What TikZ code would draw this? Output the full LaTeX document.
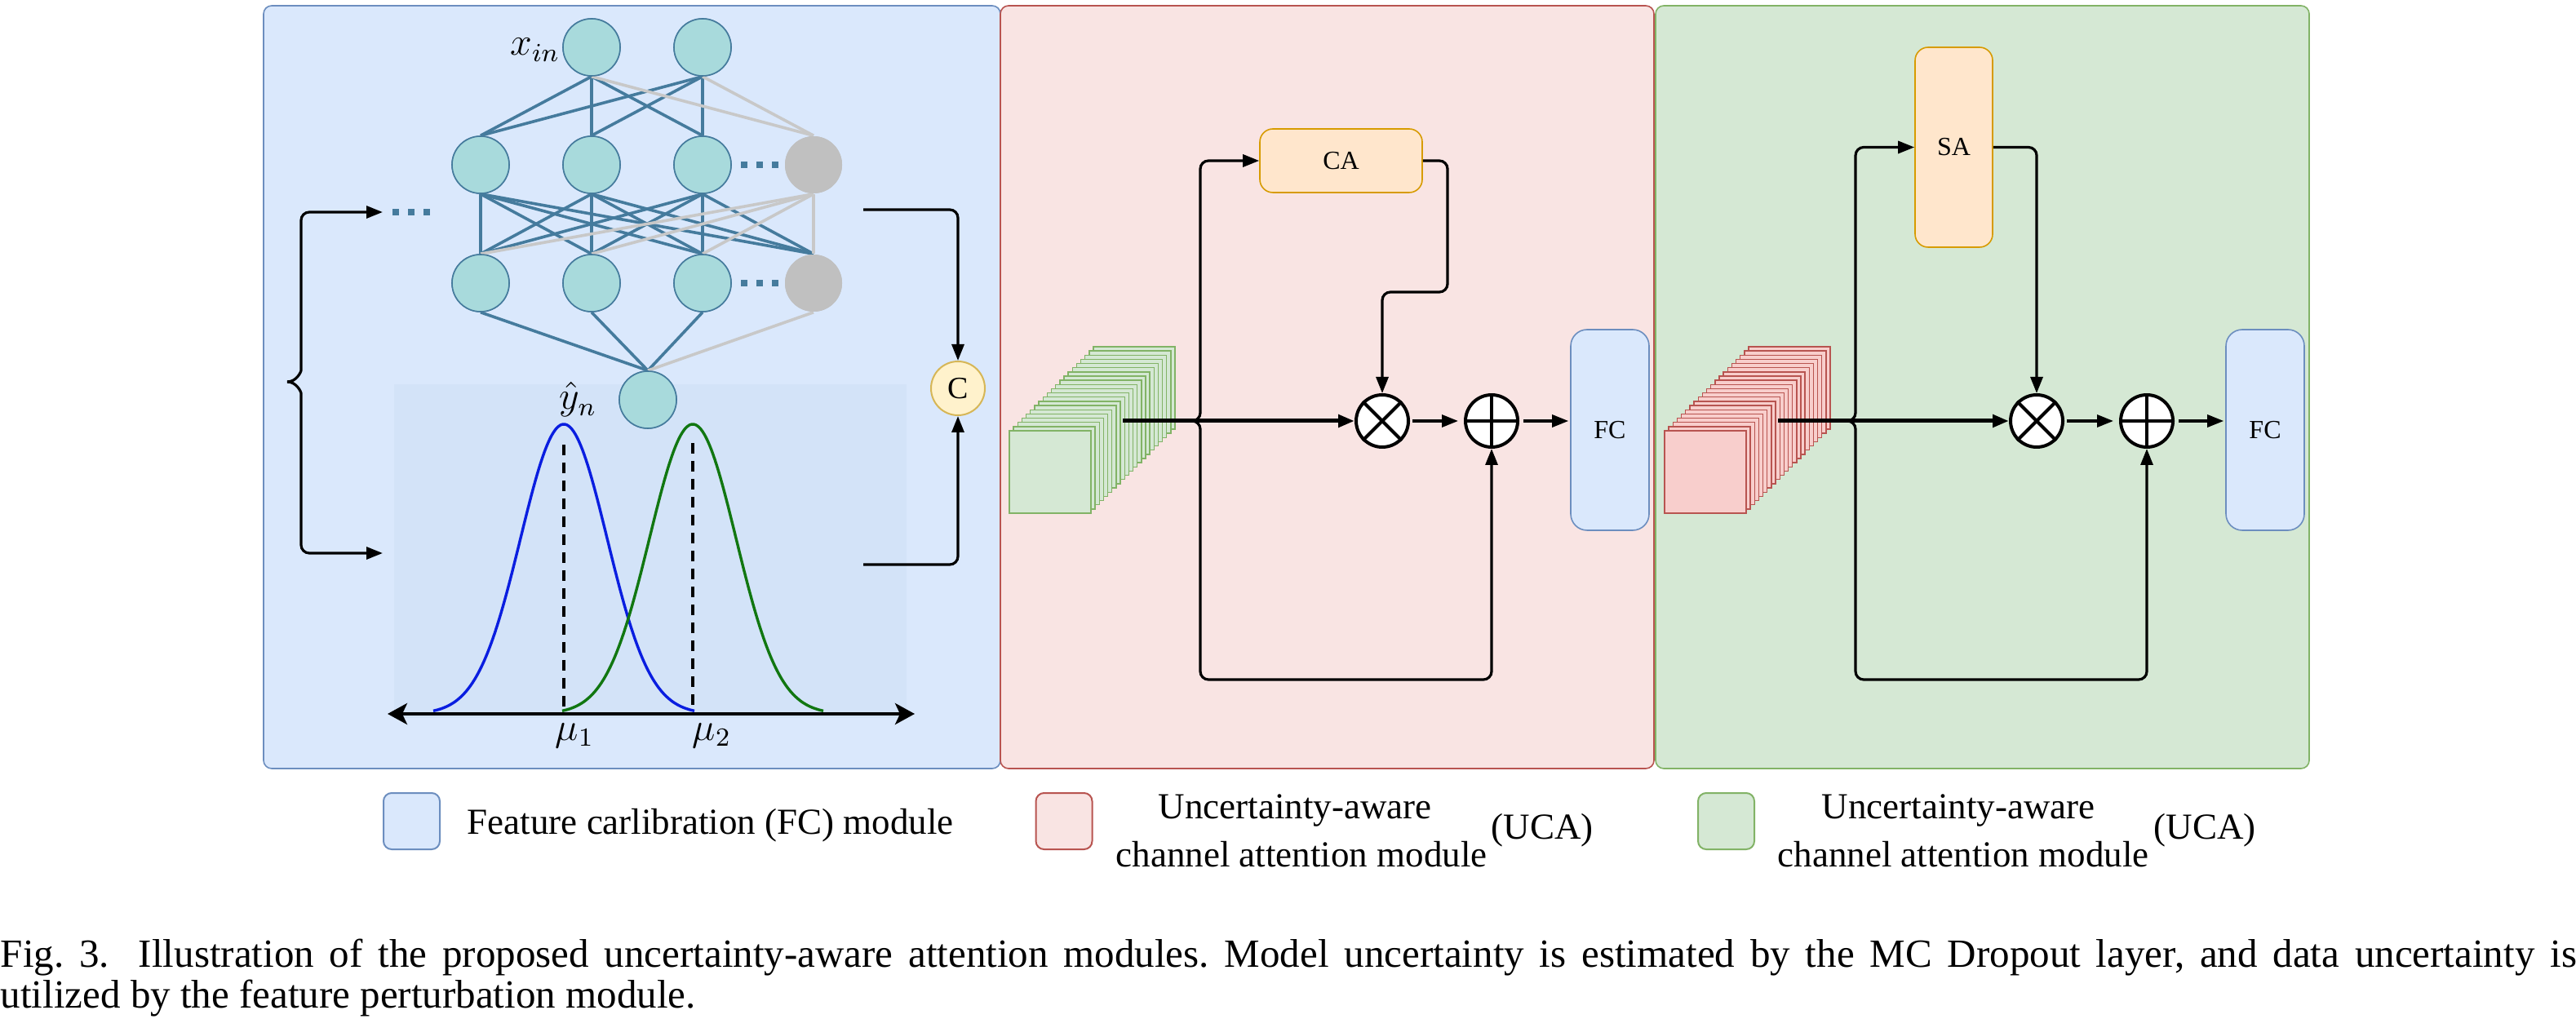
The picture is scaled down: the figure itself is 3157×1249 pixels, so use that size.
\documentclass[tikz,border=0pt]{standalone}
\usepackage{fontspec}
\setmainfont{Liberation Serif}
\usetikzlibrary{arrows.meta}
\definecolor{pbluefill}{HTML}{DAE8FC}
\definecolor{pbluedraw}{HTML}{6C8EBF}
\definecolor{ppinkfill}{HTML}{F9E4E3}
\definecolor{ppinkdraw}{HTML}{B85450}
\definecolor{pgreenfill}{HTML}{D5E8D4}
\definecolor{pgreendraw}{HTML}{82B366}
\definecolor{attfill}{HTML}{FFE6CC}
\definecolor{attdraw}{HTML}{D79B00}
\definecolor{neurfill}{HTML}{A8DADC}
\definecolor{neurdraw}{HTML}{457B9D}
\definecolor{edgeblue}{HTML}{457B9D}
\definecolor{edgegrey}{HTML}{C8C8C8}
\definecolor{greyfill}{HTML}{C0C0C0}
\definecolor{cfill}{HTML}{FFF2CC}
\definecolor{cdraw}{HTML}{D6B656}
\definecolor{distbg}{HTML}{D3E3F8}
\definecolor{stackpinkfill}{HTML}{F8CECC}
\definecolor{gaussblue}{HTML}{0A1EE0}
\definecolor{gaussgreen}{HTML}{117711}
\begin{document}
\frenchspacing
\begin{tikzpicture}[x=0.25pt,y=-0.25pt,
  panel/.style={rounded corners=2.5pt, line width=0.4pt},
  neuron/.style={circle, minimum size=17.5pt, inner sep=0pt, fill=neurfill, draw=neurdraw, line width=0.4pt},
  gneuron/.style={circle, minimum size=17.5pt, inner sep=0pt, fill=greyfill},
  nnedge/.style={draw=edgeblue, line width=0.9pt},
  gedge/.style={draw=edgegrey, line width=0.9pt},
  dotsline/.style={draw=edgeblue, line width=2pt, dash pattern=on 2pt off 2.75pt},
  conn/.style={draw=black, line width=0.8pt, -{Triangle[length=5pt,width=3.75pt]}},
  mainln/.style={draw=black, line width=1.25pt, -{Triangle[length=5pt,width=3.75pt]}},
  opnode/.style={circle, draw=black, line width=1pt, fill=white, minimum size=16pt, inner sep=0pt},
  fcbox/.style={rectangle, rounded corners=5pt, draw=pbluedraw, fill=pbluefill, line width=0.4pt, minimum width=24pt, minimum height=61.5pt, inner sep=0pt, font=\fontsize{8}{9}\selectfont},
  attbox/.style={rectangle, rounded corners=4pt, draw=attdraw, fill=attfill, line width=0.4pt, inner sep=0pt, font=\fontsize{8}{9}\selectfont},
  cnode/.style={circle, draw=cdraw, fill=cfill, line width=0.5pt, minimum size=16.5pt, inner sep=0pt, font=\fontsize{9.5}{10}\selectfont},
  mathlbl/.style={inner sep=0pt, font=\fontsize{12}{14}\selectfont},
  legbox/.style={rectangle, rounded corners=2.5pt, minimum size=17.25pt, inner sep=0pt, line width=0.5pt},
  legtxt/.style={inner sep=0pt, font=\fontsize{11.25}{13}\selectfont},
  captxt/.style={inner sep=0pt, font=\fontsize{12.25}{10.5}\selectfont},
  stackG/.style={fill=pgreenfill, draw=pgreendraw, line width=0.35pt},
  stackP/.style={fill=stackpinkfill, draw=ppinkdraw, line width=0.35pt},
  gcurve/.style={line width=0.85pt},
  dashln/.style={draw=black, line width=1pt, dash pattern=on 3.25pt off 2.25pt},
  axisln/.style={draw=black, line width=1pt, {Stealth[length=6pt,width=6.5pt,inset=1.5pt]}-{Stealth[length=6pt,width=6.5pt,inset=1.5pt]}}
]
\useasboundingbox (0,0) rectangle (3157,1249);
\fill[white] (0,0) rectangle (3157,1249);

% ---------- panels ----------
\draw[panel, fill=pbluefill, draw=pbluedraw] (323,7) rectangle (1226,942);
\draw[panel, fill=ppinkfill, draw=ppinkdraw] (1226,7) rectangle (2027,942);
\draw[panel, fill=pgreenfill, draw=pgreendraw] (2029,7) rectangle (2830,942);

% ---------- FC module (blue) ----------
\fill[distbg] (483,471) rectangle (1111,880);

\node[neuron] (t1) at (725,58) {};
\node[neuron] (t2) at (861,58) {};
\node[neuron] (a1) at (589,202) {};
\node[neuron] (a2) at (725,202) {};
\node[neuron] (a3) at (861,202) {};
\node[gneuron] (a4) at (997,202) {};
\node[neuron] (b1) at (589,347) {};
\node[neuron] (b2) at (725,347) {};
\node[neuron] (b3) at (861,347) {};
\node[gneuron] (b4) at (997,347) {};
\node[neuron] (o) at (794,490) {};

\foreach \s in {t1,t2} {
  \foreach \t in {a1,a2,a3} { \draw[nnedge] (\s.south) -- (\t.north); }
}
\foreach \s in {a1,a2,a3} {
  \foreach \t in {b1,b2,b3,b4} { \draw[nnedge] (\s.south) -- (\t.north); }
}
\foreach \s in {b1,b2,b3} { \draw[nnedge] (\s.south) -- (o.north); }
\foreach \s in {t1,t2} { \draw[gedge] (\s.south) -- (a4.north); }
\foreach \t in {b1,b2,b3,b4} { \draw[gedge] (a4.south) -- (\t.north); }
\draw[gedge] (b4.south) -- (o.north);

% redraw neurons on top of edges
\node[neuron] at (t1) {};
\node[neuron] at (t2) {};
\node[neuron] at (a1) {};
\node[neuron] at (a2) {};
\node[neuron] at (a3) {};
\node[gneuron] at (a4) {};
\node[neuron] at (b1) {};
\node[neuron] at (b2) {};
\node[neuron] at (b3) {};
\node[gneuron] at (b4) {};
\node[neuron] at (o) {};

\draw[dotsline] (908,202) -- (954,202);
\draw[dotsline] (908,347) -- (954,347);
\draw[dotsline] (481,260) -- (527,260);

\node[mathlbl, anchor=base east] (xin) at (687,68) {$x_{in}$};
\node[mathlbl, anchor=base west] (yhat) at (685,502) {$\hat{y}_n$};

% gaussians
\draw[gcurve, gaussblue] plot[domain=531:851, samples=120, smooth] (\x, {875-355*exp(-0.5*((\x-691)/53)^2)});
\draw[gcurve, gaussgreen] plot[domain=689:1009, samples=120, smooth] (\x, {875-355*exp(-0.5*((\x-849)/53)^2)});
\draw[dashln] (691,545) -- (691,875);
\draw[dashln] (849,543) -- (849,875);
\coordinate (axL) at (475,875);
\coordinate (axR) at (1121,875);
\draw[axisln] (axL) -- (axR);
\node[mathlbl, anchor=base west] (mu1) at (680,907) {$\mu_1$};
\node[mathlbl, anchor=base west] (mu2) at (848,907) {$\mu_2$};

% left brace arrows
\coordinate (btip) at (352,468);
\coordinate (lt) at (469,260);
\coordinate (lb) at (469,678);
\draw[conn, rounded corners=2.5pt] (btip) to[out=0,in=-90] (369,444) -- (369,260) -- (lt);
\draw[conn, rounded corners=2.5pt] (btip) to[out=0,in=90] (369,492) -- (369,678) -- (lb);

% right arrows to C
\node[cnode] (C) at (1174,476) {C};
\coordinate (rt) at (1058,257);
\coordinate (rb) at (1058,692);
\draw[conn, rounded corners=2.5pt] (rt) -| (C.north);
\draw[conn, rounded corners=2.5pt] (rb) -| (C.south);

% ---------- UCA (pink panel) ----------
\foreach \k in {20,19,...,1} {
  \draw[stackG] (1237+\k*5.15, 528-\k*5.15) rectangle +(100,101);
}
\draw[stackG] (1237,528) rectangle +(100,101);

\node[attbox, minimum width=49.75pt, minimum height=19.5pt] (CA) at (1643.5,197) {CA};
\node[opnode] (mulP) at (1694,516) {};
\draw[line width=1pt] (mulP.north east) -- (mulP.south west) (mulP.north west) -- (mulP.south east);
\node[opnode] (addP) at (1828,516) {};
\draw[line width=1pt] (addP.north) -- (addP.south) (addP.west) -- (addP.east);
\node[fcbox] (FCP) at (1973,527) {FC};

\coordinate (srcP) at (1376,516);
\coordinate (jPa) at (1448,516);
\coordinate (jP) at (1471,516);
\coordinate (botP) at (1828,833);
\coordinate (turnP) at (1774,358);
\draw[mainln] (srcP) -- (mulP.west);
\draw[conn, rounded corners=2.5pt] (jPa) -- (jP) |- (CA.west);
\draw[conn, rounded corners=2.5pt] (jPa) -- (jP) |- (botP) -- (addP.south);
\draw[conn, rounded corners=2.5pt] (CA.east) -| (turnP) -| (mulP.north);
\draw[conn, shorten <=0.75pt, shorten >=1.75pt] (mulP.east) -- (addP.west);
\draw[conn, shorten <=1.25pt, shorten >=0.5pt] (addP.east) -- (addP.east -| FCP.west);

% ---------- UCA (green panel) ----------
\foreach \k in {20,19,...,1} {
  \draw[stackP] (2040+\k*5.15, 528-\k*5.15) rectangle +(100,101);
}
\draw[stackP] (2040,528) rectangle +(100,101);

\node[attbox, minimum width=23.75pt, minimum height=61.25pt] (SA) at (2394.5,180.5) {SA};
\node[opnode] (mulG) at (2496,516) {};
\draw[line width=1pt] (mulG.north east) -- (mulG.south west) (mulG.north west) -- (mulG.south east);
\node[opnode] (addG) at (2631,516) {};
\draw[line width=1pt] (addG.north) -- (addG.south) (addG.west) -- (addG.east);
\node[fcbox] (FCG) at (2776,527) {FC};

\coordinate (srcG) at (2179,516);
\coordinate (jGa) at (2251,516);
\coordinate (jG) at (2274,516);
\coordinate (botG) at (2631,833);
\draw[mainln] (srcG) -- (mulG.west);
\draw[conn, rounded corners=2.5pt] (jGa) -- (jG) |- (SA.west);
\draw[conn, rounded corners=2.5pt] (jGa) -- (jG) |- (botG) -- (addG.south);
\draw[conn, rounded corners=2.5pt] (SA.east) -| (mulG.north);
\draw[conn, shorten <=0.75pt, shorten >=1.75pt] (mulG.east) -- (addG.west);
\draw[conn, shorten <=1.25pt, shorten >=0.5pt] (addG.east) -- (addG.east -| FCG.west);

% ---------- legend ----------
\node[legbox, fill=pbluefill, draw=pbluedraw] (lg1) at (504.5,1006.5) {};
\node[legtxt, anchor=base west] (lt1) at (572,1022) {Feature carlibration (FC) module};
\node[legbox, fill=ppinkfill, draw=ppinkdraw] (lg2) at (1304,1006.5) {};
\node[legtxt, anchor=base] (lt2a) at (1587,1003) {Uncertainty-aware};
\node[legtxt, anchor=base] (lt2b) at (1595,1062) {channel attention module};
\node[legtxt, anchor=base west] (lt2c) at (1827,1028) {(UCA)};
\node[legbox, fill=pgreenfill, draw=pgreendraw] (lg3) at (2115.5,1006.5) {};
\node[legtxt, anchor=base] (lt3a) at (2400,1003) {Uncertainty-aware};
\node[legtxt, anchor=base] (lt3b) at (2406,1062) {channel attention module};
\node[legtxt, anchor=base west] (lt3c) at (2639,1028) {(UCA)};

% ---------- caption ----------
\node[captxt, anchor=base west] (cap1) at (0,1185)
  {\hbox to 789.25pt{Fig.~3.\hspace{9pt}Illustration of the proposed uncertainty-aware attention modules. Model uncertainty is estimated by the MC Dropout layer, and data uncertainty is}};
\node[captxt, anchor=base west] (cap2) at (0,1235)
  {utilized by the feature perturbation module.};
\end{tikzpicture}
\end{document}
